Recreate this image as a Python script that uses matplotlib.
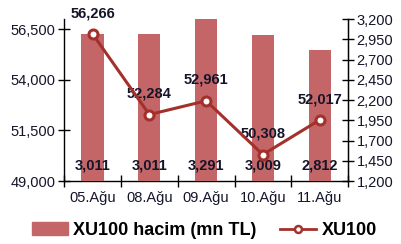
import matplotlib
matplotlib.use("Agg")
import matplotlib.pyplot as plt
from matplotlib.lines import Line2D
from matplotlib.patches import Patch

plt.rcParams["font.family"] = ["Liberation Sans", "DejaVu Sans"]

categories = ["05.Ağu", "08.Ağu", "09.Ağu", "10.Ağu", "11.Ağu"]
hacim = [3011, 3011, 3291, 3009, 2812]
xu100 = [56266, 52284, 52961, 50308, 52017]
hacim_labels = ["3,011", "3,011", "3,291", "3,009", "2,812"]
xu100_labels = ["56,266", "52,284", "52,961", "50,308", "52,017"]
left_ticks = [49000, 51500, 54000, 56500]
right_ticks = [1200, 1450, 1700, 1950, 2200, 2450, 2700, 2950, 3200]

bar_color = "#C46668"
line_color = "#A3302B"
text_color = "#15152a"
fs = 10.5

fig = plt.figure(figsize=(4.01, 2.44), dpi=100)
ax = fig.add_axes([0.160, 0.258, 0.708, 0.664])
ax2 = ax.twinx()

x = list(range(len(categories)))
ax2.bar(x, hacim, width=0.39, color=bar_color, zorder=2)
ax2.set_ylim(1200, 3200)
ax2.set_yticks(right_ticks)
ax2.set_yticklabels([f"{v:,}" for v in right_ticks])

for xi, lab in zip(x, hacim_labels):
    ax2.annotate(lab, (xi, 1200), xytext=(0, 11), textcoords="offset points",
                 ha="center", va="center", fontsize=fs, fontweight="bold",
                 color=text_color, zorder=5)

ax3 = fig.add_axes(ax.get_position(), sharex=ax)
ax3.patch.set_visible(False)
ax3.axis("off")
ax3.plot(x, xu100, color=line_color, lw=2.2, marker="o", ms=6.5,
         markerfacecolor="white", markeredgecolor=line_color, markeredgewidth=2.2, zorder=4)
ax3.set_ylim(49000, 57000)
for xi, yi, lab in zip(x, xu100, xu100_labels):
    ax3.annotate(lab, (xi, yi), xytext=(0, 10), textcoords="offset points",
                 ha="center", va="bottom", fontsize=fs, fontweight="bold", color=text_color)

ax.set_ylim(49000, 57000)
ax.set_yticks(left_ticks)
ax.set_yticklabels([f"{v:,}" for v in left_ticks])
ax.set_xlim(-0.5, len(categories) - 0.5)
ax.set_xticks(x)
ax.set_xticklabels(categories)
ax.set_xticks([i - 0.5 for i in range(len(categories) + 1)], minor=True)
ax.tick_params(axis="x", which="major", length=0, pad=7, labelsize=fs, labelcolor=text_color)
ax.tick_params(axis="x", which="minor", direction="inout", length=8, width=1)
ax.tick_params(axis="y", direction="inout", length=8, width=1, labelsize=fs, labelcolor=text_color, pad=2)
ax2.tick_params(axis="y", direction="inout", length=8, width=1, labelsize=fs, labelcolor=text_color, pad=2)

for a in (ax, ax2):
    a.spines["top"].set_visible(False)
ax2.spines["left"].set_visible(False)
ax2.spines["bottom"].set_visible(False)
for s in ("left", "bottom"):
    ax.spines[s].set_linewidth(1)
ax2.spines["right"].set_linewidth(1)

handles = [Patch(color=bar_color),
           Line2D([0], [0], color=line_color, lw=2, marker="o", ms=5,
                  markerfacecolor="white", markeredgecolor=line_color, markeredgewidth=1.8)]
fig.legend(handles, ["XU100 hacim (mn TL)", "XU100"], loc="center",
           bbox_to_anchor=(0.51, 0.055), ncol=2, frameon=False,
           prop={"family": ["Liberation Sans", "DejaVu Sans"], "weight": "bold", "size": 13},
           handlelength=2.0, columnspacing=1.3, handletextpad=0.3)

fig.savefig("out.png", dpi=100)
